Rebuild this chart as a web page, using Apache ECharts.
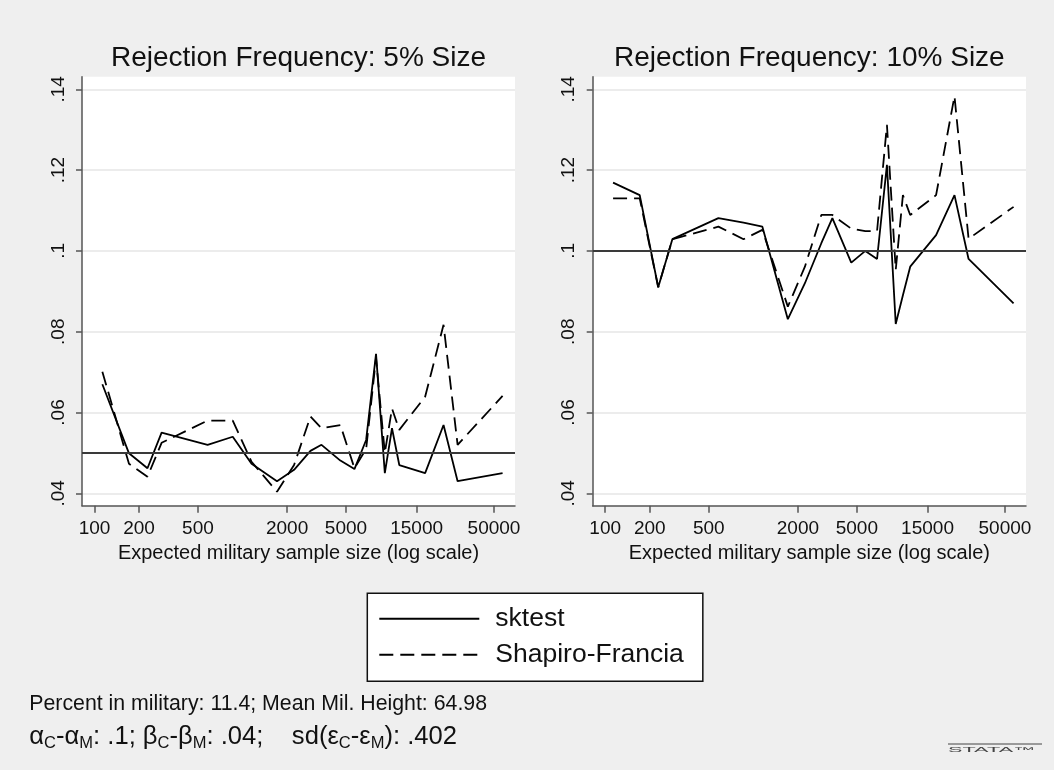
<!DOCTYPE html>
<html>
<head>
<meta charset="utf-8">
<script src="https://cdn.jsdelivr.net/npm/echarts@6/dist/echarts.min.js"></script>
<style>
html,body{margin:0;padding:0;background:#efefef;}
#chart{width:1054px;height:770px;}
</style>
</head>
<body>
<div id="chart"></div>
<script>
// ---- data ----
const sampleSizes = [113, 171, 228, 284, 581, 859, 1151, 1710, 2230, 2878, 3417, 4583, 5704, 6843, 7980, 9150, 10230, 11460, 17130, 22810, 28390, 57150];
const sktest5  = [0.0670, 0.0499, 0.0462, 0.0550, 0.0520, 0.0540, 0.0473, 0.0430, 0.0458, 0.0505, 0.0520, 0.0481, 0.0460, 0.0532, 0.0745, 0.0450, 0.0561, 0.0470, 0.0450, 0.0569, 0.0430, 0.0450];
const sf5      = [0.0701, 0.0473, 0.0441, 0.0525, 0.0580, 0.0580, 0.0478, 0.0404, 0.0470, 0.0590, 0.0561, 0.0569, 0.0462, 0.0510, 0.0735, 0.0500, 0.0610, 0.0557, 0.0639, 0.0817, 0.0520, 0.0641];
const sktest10 = [0.1169, 0.1138, 0.0910, 0.1029, 0.1081, 0.1070, 0.1060, 0.0831, 0.0920, 0.1019, 0.1081, 0.0971, 0.1000, 0.0980, 0.1213, 0.0819, 0.0890, 0.0961, 0.1039, 0.1138, 0.0980, 0.0870];
const sf10     = [0.1130, 0.1130, 0.0910, 0.1029, 0.1060, 0.1029, 0.1052, 0.0862, 0.0961, 0.1089, 0.1089, 0.1055, 0.1049, 0.1049, 0.1312, 0.0953, 0.1138, 0.1089, 0.1138, 0.1383, 0.1030, 0.1109];
const xTicks = [100, 200, 500, 2000, 5000, 15000, 50000];
const yTicks = [0.04, 0.06, 0.08, 0.10, 0.12, 0.14];
const panelTitles = ['Rejection Frequency: 5% Size', 'Rejection Frequency: 10% Size'];
const nominalSize = [0.05, 0.10];
const seriesNames = ['sktest', 'Shapiro-Francia'];
const xTitle = 'Expected military sample size (log scale)';
const note1 = 'Percent in military: 11.4; Mean Mil. Height: 64.98';

// ---- build ----
const FONT = '"Liberation Sans", Arial, Helvetica, sans-serif';
const gridLefts = [82, 592.7];
const gridWidths = [433, 433.3];
const panels = [[sktest5, sf5], [sktest10, sf10]];

function pairs(vals) { return sampleSizes.map((n, i) => [n, vals[i]]); }
function yFmt(v) { return String(+(+v).toFixed(2)).replace(/^0/, ''); }

const axisCol = '#555555';
const grids = [], xAxes = [], yAxes = [], series = [], titles = [];
for (let p = 0; p < 2; p++) {
  grids.push({ left: gridLefts[p], top: 76.7, width: gridWidths[p], height: 429, show: true, backgroundColor: '#ffffff', borderWidth: 0 });
  titles.push({ text: panelTitles[p], left: gridLefts[p] + gridWidths[p] / 2, top: 44.3, textAlign: 'center', padding: 0,
    textStyle: { fontSize: 28, fontWeight: 'normal', color: '#111', fontFamily: FONT } });
  xAxes.push({
    gridIndex: p, type: 'log', logBase: 10, min: 82.33, max: 69330,
    axisLine: { show: true, onZero: false, lineStyle: { color: axisCol, width: 1.5 } },
    axisTick: { show: true, length: 7, customValues: xTicks, lineStyle: { color: axisCol, width: 1.5 } },
    axisLabel: { customValues: xTicks, fontSize: 19, color: '#111', fontFamily: FONT, margin: 14,
      formatter: v => String(Math.round(v)) },
    minorTick: { show: false }, splitLine: { show: false }, minorSplitLine: { show: false },
    name: xTitle, nameLocation: 'middle', nameGap: 32.5,
    nameTextStyle: { fontSize: 20, color: '#111', fontFamily: FONT }
  });
  yAxes.push({
    gridIndex: p, type: 'value', min: 0.03693, max: 0.14312,
    axisLine: { show: true, onZero: false, lineStyle: { color: axisCol, width: 1.5 } },
    axisTick: { show: true, length: 6, customValues: yTicks, lineStyle: { color: axisCol, width: 1.5 } },
    axisLabel: { customValues: yTicks, rotate: 90, fontSize: 19, color: '#111', fontFamily: FONT, margin: 14, formatter: yFmt },
    splitLine: { show: true, lineStyle: { color: '#e6e6e6', width: 1.5 } }
  });
  for (let s = 0; s < 2; s++) {
    const ser = {
      name: seriesNames[s], type: 'line', xAxisIndex: p, yAxisIndex: p,
      data: pairs(panels[p][s]), symbol: 'none', showSymbol: false, animation: false, silent: true,
      lineStyle: { color: '#000', width: 1.8, type: s === 0 ? 'solid' : [14, 7] },
      itemStyle: { color: '#000' }, z: 3
    };
    if (s === 0) {
      ser.markLine = { silent: true, symbol: ['none', 'none'], label: { show: false }, animation: false,
        lineStyle: { color: '#3a3a3a', width: 2, type: 'solid' }, data: [{ yAxis: nominalSize[p] }] };
    }
    series.push(ser);
  }
}

const option = {
  animation: false,
  backgroundColor: '#efefef',
  textStyle: { fontFamily: FONT },
  title: titles,
  grid: grids,
  xAxis: xAxes,
  yAxis: yAxes,
  series: series,
  legend: {
    data: seriesNames, orient: 'vertical', left: 367.3, top: 593.3,
    padding: [12, 19, 13, 11], itemWidth: 100, itemHeight: 26, itemGap: 9,
    backgroundColor: '#ffffff', borderColor: '#111', borderWidth: 1.5, borderRadius: 0,
    itemStyle: { opacity: 0 },
    textStyle: { fontSize: 26.5, color: '#111', fontFamily: FONT, padding: [0, 0, 0, 11] },
    selectedMode: false
  },
  graphic: [
    { type: 'text', x: 29.3, y: 704, silent: true,
      style: { text: note1, fontSize: 21.3, fill: '#111', font: '21.3px ' + FONT, align: 'left', verticalAlign: 'middle' } },
    { type: 'text', x: 29.3, y: 737, silent: true,
      style: {
        text: '{g|α}{s|C}-{g|α}{s|M}: .1; {g|β}{s|C}-{g|β}{s|M}: .04;    sd({g|ε}{s|C}-{g|ε}{s|M}): .402',
        fontSize: 25.6, fontFamily: FONT, fill: '#111', lineHeight: 30, align: 'left', verticalAlign: 'middle',
        rich: {
          g: { fontSize: 25.6, fontFamily: FONT, fill: '#111', lineHeight: 30 },
          s: { fontSize: 16.5, fontFamily: FONT, fill: '#111', lineHeight: 24, verticalAlign: 'bottom' }
        }
      } },
    { type: 'line', silent: true, shape: { x1: 948, y1: 744, x2: 1042, y2: 744 }, style: { stroke: '#444', lineWidth: 1 } },
    { type: 'text', x: 948, y: 750.5, scaleX: 3.1, silent: true,
      style: { text: 'STATA™', fontSize: 7, fontFamily: FONT, fill: '#444', align: 'left', verticalAlign: 'middle' } }
  ]
};

const chart = echarts.init(document.getElementById('chart'), null, { renderer: 'canvas' });
chart.setOption(option);
</script>
</body>
</html>
